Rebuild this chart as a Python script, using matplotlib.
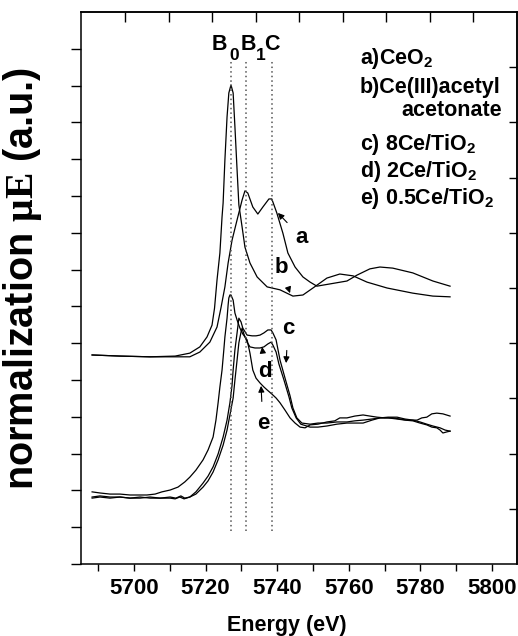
import numpy as np
import matplotlib
matplotlib.use('Agg')
import matplotlib.pyplot as plt

plt.rcParams['font.family'] = ['Liberation Sans', 'DejaVu Sans']
plt.rcParams['font.weight'] = 'bold'
plt.rcParams['mathtext.fontset'] = 'custom'
plt.rcParams['mathtext.rm'] = 'Liberation Serif'
plt.rcParams['mathtext.it'] = 'Liberation Serif:italic'
plt.rcParams['mathtext.bf'] = 'Liberation Sans:bold'

# ---------------- data ----------------
energy_a = [5688.3, 5696.1, 5704.5, 5712.8, 5715.6, 5718.4, 5721.2, 5723.2, 5724.3, 5725.4,
            5726.3, 5727.4, 5728.8, 5730.2, 5731.0, 5731.8, 5733.2, 5734.6, 5736.0, 5737.7,
            5738.5, 5739.9, 5741.6, 5743.0, 5745.0, 5747.2, 5749.2, 5751.1, 5754.7, 5759.5,
            5762.3, 5765.9, 5768.7, 5772.3, 5777.9, 5783.5, 5788.3]
mu_a = [5.68, 5.65, 5.63, 5.63, 5.63, 5.76, 6.03, 6.44, 6.96, 7.53,
        8.18, 8.80, 9.35, 9.89, 10.14, 10.08, 9.70, 9.51, 9.70, 9.92,
        9.92, 9.54, 8.99, 8.45, 8.07, 7.80, 7.66, 7.55, 7.61, 7.69,
        7.85, 8.02, 8.07, 8.04, 7.91, 7.69, 7.55]

energy_b = [5688.3, 5696.1, 5704.5, 5711.5, 5715.6, 5718.4, 5720.4, 5721.8, 5722.5, 5723.2,
            5724.0, 5724.6, 5724.9, 5725.4, 5726.0, 5726.5, 5727.1, 5727.7, 5728.2, 5728.8,
            5729.3, 5730.2, 5731.0, 5732.4, 5734.4, 5737.2, 5740.8, 5744.4, 5747.2, 5750.0,
            5753.9, 5757.5, 5761.2, 5765.1, 5770.7, 5777.9, 5783.5, 5788.3]
mu_b = [5.68, 5.65, 5.63, 5.65, 5.73, 5.90, 6.17, 6.49, 6.95, 7.72,
        8.45, 9.43, 9.81, 10.98, 12.15, 12.80, 13.02, 12.80, 11.88, 10.71,
        9.76, 9.16, 8.61, 8.18, 7.80, 7.53, 7.45, 7.28, 7.31, 7.50,
        7.77, 7.88, 7.83, 7.66, 7.50, 7.36, 7.28, 7.26]

energy_c = [5688.3, 5690.5, 5693.3, 5696.1, 5698.9, 5701.7, 5704.5, 5707.3, 5710.1, 5711.5,
            5712.8, 5714.0, 5715.6, 5717.3, 5719.3, 5720.7, 5722.1, 5723.5, 5724.9, 5726.0,
            5726.8, 5727.4, 5727.7, 5728.2, 5728.8, 5729.3, 5729.9, 5730.4, 5731.6, 5733.0,
            5734.1, 5735.2, 5736.3, 5737.4, 5738.3, 5738.8, 5739.7, 5740.8, 5742.2, 5743.6,
            5744.4, 5745.5, 5746.9, 5749.2, 5751.4, 5753.9, 5756.7, 5759.5, 5761.7, 5764.0,
            5766.5, 5768.7, 5771.0, 5773.5, 5775.7, 5777.9, 5779.9, 5781.8, 5783.2, 5784.6,
            5785.5, 5786.3, 5787.4, 5788.3]
mu_c = [1.82, 1.85, 1.82, 1.82, 1.79, 1.82, 1.79, 1.79, 1.79, 1.77,
        1.82, 1.77, 1.82, 1.96, 2.20, 2.39, 2.64, 2.99, 3.45, 3.91,
        4.38, 4.86, 5.27, 5.82, 6.28, 6.68, 6.58, 6.41, 6.22, 6.20,
        6.20, 6.22, 6.28, 6.36, 6.36, 6.28, 6.09, 5.54, 5.05, 4.57,
        4.24, 3.97, 3.83, 3.80, 3.83, 3.83, 3.86, 3.86, 3.89, 3.91,
        3.94, 3.97, 3.97, 3.94, 3.91, 3.89, 3.83, 3.78, 3.72, 3.70,
        3.64, 3.56, 3.59, 3.61]

energy_d = [5688.3, 5690.5, 5693.3, 5696.1, 5698.9, 5701.7, 5704.5, 5707.3, 5710.1, 5711.7,
            5713.1, 5714.2, 5715.6, 5717.3, 5719.3, 5720.7, 5722.1, 5723.5, 5724.9, 5726.0,
            5726.8, 5727.7, 5728.2, 5728.8, 5729.3, 5729.9, 5730.2, 5730.7, 5731.6, 5732.4,
            5733.8, 5735.2, 5736.3, 5737.4, 5738.3, 5738.8, 5739.7, 5740.5, 5741.9, 5743.3,
            5744.1, 5745.3, 5746.6, 5749.2, 5751.4, 5753.9, 5756.7, 5759.5, 5761.7, 5764.0,
            5766.5, 5768.7, 5771.0, 5773.5, 5775.7, 5777.9, 5779.9, 5781.8, 5783.5, 5785.5,
            5786.9, 5788.3]
mu_d = [1.79, 1.82, 1.79, 1.82, 1.79, 1.79, 1.82, 1.79, 1.82, 1.79,
        1.85, 1.79, 1.82, 1.90, 2.09, 2.26, 2.50, 2.83, 3.23, 3.64,
        4.05, 4.51, 5.00, 5.54, 6.01, 6.30, 6.41, 6.25, 6.03, 5.90,
        5.87, 5.87, 5.90, 5.98, 6.03, 5.95, 5.76, 5.43, 5.00, 4.54,
        4.24, 3.97, 3.80, 3.72, 3.72, 3.75, 3.80, 3.83, 3.83, 3.83,
        3.91, 3.97, 3.99, 3.99, 3.94, 3.91, 3.86, 3.80, 3.75, 3.70,
        3.64, 3.61]

energy_e = [5688.3, 5690.5, 5693.3, 5696.1, 5698.9, 5701.7, 5703.6, 5705.9, 5707.8, 5710.1,
            5712.3, 5714.2, 5715.6, 5717.3, 5719.3, 5720.7, 5722.1, 5722.9, 5723.5, 5724.0,
            5724.6, 5725.1, 5725.4, 5726.0, 5726.3, 5726.5, 5726.8, 5727.1, 5727.7, 5728.2,
            5728.8, 5729.6, 5730.4, 5731.6, 5732.4, 5733.2, 5734.1, 5735.2, 5736.3, 5737.2,
            5738.5, 5739.7, 5740.8, 5742.2, 5743.6, 5745.0, 5746.4, 5747.8, 5749.2, 5751.4,
            5753.9, 5756.1, 5757.5, 5759.5, 5761.7, 5764.0, 5765.9, 5767.9, 5770.1, 5772.3,
            5774.3, 5776.3, 5779.1, 5780.4, 5781.8, 5783.2, 5784.6, 5786.3, 5788.3]
mu_e = [1.96, 1.93, 1.90, 1.90, 1.875, 1.875, 1.875, 1.90, 1.96, 2.01,
        2.09, 2.23, 2.36, 2.55, 2.83, 3.10, 3.45, 3.91, 4.38, 4.81,
        5.27, 5.82, 6.17, 6.68, 7.04, 7.23, 7.31, 7.31, 7.17, 6.82,
        6.63, 6.41, 6.25, 6.09, 5.73, 5.27, 5.05, 4.92, 4.81, 4.73,
        4.62, 4.51, 4.38, 4.18, 3.97, 3.83, 3.72, 3.70, 3.78, 3.80,
        3.86, 3.89, 3.97, 3.97, 4.02, 4.05, 4.02, 3.99, 3.97, 3.97,
        3.94, 3.91, 3.91, 3.97, 3.99, 4.08, 4.10, 4.08, 4.02]

feature_energy = [5727.1, 5731.3, 5738.5]

legend_lines = [r'a)CeO$_\mathbf{2}$', 'b)Ce(III)acetyl', 'acetonate',
                r'c) 8Ce/TiO$_\mathbf{2}$', r'd) 2Ce/TiO$_\mathbf{2}$',
                r'e) 0.5Ce/TiO$_\mathbf{2}$']

curve_labels = ['a', 'b', 'c', 'd', 'e']
label_text_pos = [(5746.9, 8.86), (5741.1, 8.07), (5743.0, 6.39), (5736.6, 5.22), (5736.0, 3.83)]
label_tip_pos = [(5740.2, 9.54), (5743.6, 7.36), (5742.5, 5.46), (5735.8, 5.90), (5735.5, 4.84)]

x_ticks = [5700, 5720, 5740, 5760, 5780, 5800]

# ---------------- figure ----------------
W, H = 518, 636
fig = plt.figure(figsize=(W / 100, H / 100), dpi=100)
ax = fig.add_axes([81 / W, 72 / H, 436 / W, 552 / H])

for en, mu in [(energy_a, mu_a), (energy_b, mu_b), (energy_c, mu_c),
               (energy_d, mu_d), (energy_e, mu_e)]:
    ax.plot(en, mu, color='black', lw=0.9)

ax.vlines(feature_energy, 0.9, 13.7, colors='#555555', linestyles=(0, (1, 2)), lw=1.1)

ax.set_xlim(5685.2, 5807.0)
ax.set_ylim(0, 15)

ax.set_xticks(x_ticks)
ax.set_xticks(np.arange(5690, 5806, 10), minor=True)
ax.set_yticks(np.arange(0, 15, 1))
ax.set_yticklabels([])
ax.tick_params(axis='x', which='both', direction='out', length=5, width=1.0,
               labelsize=16, pad=5, top=False)
ax.tick_params(axis='y', which='both', direction='out', length=7, width=1.0, right=False)
for lab in ax.get_xticklabels():
    lab.set_fontweight('bold')
for s in ax.spines.values():
    s.set_linewidth(1.1)

# right axis ticks (inward, no labels)
secy = ax.secondary_yaxis('right')
secy.set_yticks(np.arange(1.5, 14, 1.5))
secy.set_yticklabels([])
secy.tick_params(direction='in', length=6, width=1.0)
secy.spines['right'].set_linewidth(1.1)

# top axis ticks (inward, no labels)
secx = ax.secondary_xaxis('top')
secx.set_xticks(5697.5 + 12.16 * np.arange(9))
secx.set_xticklabels([])
secx.tick_params(direction='in', length=7, width=1.0)
secx.spines['top'].set_linewidth(1.1)

# feature labels B0 B1 C
ax.text(5723.9, 14.12, 'B', fontsize=15.5, fontweight='bold', ha='center', va='center')
ax.text(5727.9, 13.83, '0', fontsize=12.5, fontweight='bold', ha='center', va='center')
ax.text(5732.0, 14.12, 'B', fontsize=15.5, fontweight='bold', ha='center', va='center')
ax.text(5735.4, 13.83, '1', fontsize=12.5, fontweight='bold', ha='center', va='center')
ax.text(5738.4, 14.12, 'C', fontsize=15.5, fontweight='bold', ha='center', va='center')

# legend-like text block
baselines = [0.9058, 0.8533, 0.8116, 0.75, 0.7011, 0.6522]
for txt, yb in zip(legend_lines, baselines):
    if txt == 'acetonate':
        ax.text(0.966, yb, txt, transform=ax.transAxes, fontsize=15.5, fontweight='bold',
                ha='right', va='baseline')
    else:
        ax.text(0.640, yb, txt, transform=ax.transAxes, fontsize=15.5, fontweight='bold',
                ha='left', va='baseline')

# curve labels with arrows
for lab, tp, tip in zip(curve_labels, label_text_pos, label_tip_pos):
    ax.annotate(lab, xy=tip, xytext=tp, fontsize=16, fontweight='bold',
                ha='center', va='center',
                arrowprops=dict(arrowstyle='-|>', color='black', lw=0.8,
                                mutation_scale=9, shrinkA=6, shrinkB=0))

fig.text(23 / W, 1 - 278 / H, r'normalization $\mathrm{\mu E}$ (a.u.)', rotation=90,
         fontsize=28.5, fontweight='bold', ha='center', va='center')
fig.text(287 / W, 1 - 625 / H, 'Energy (eV)', fontsize=15.5, fontweight='bold',
         ha='center', va='center')

fig.savefig('out.png', dpi=100)
